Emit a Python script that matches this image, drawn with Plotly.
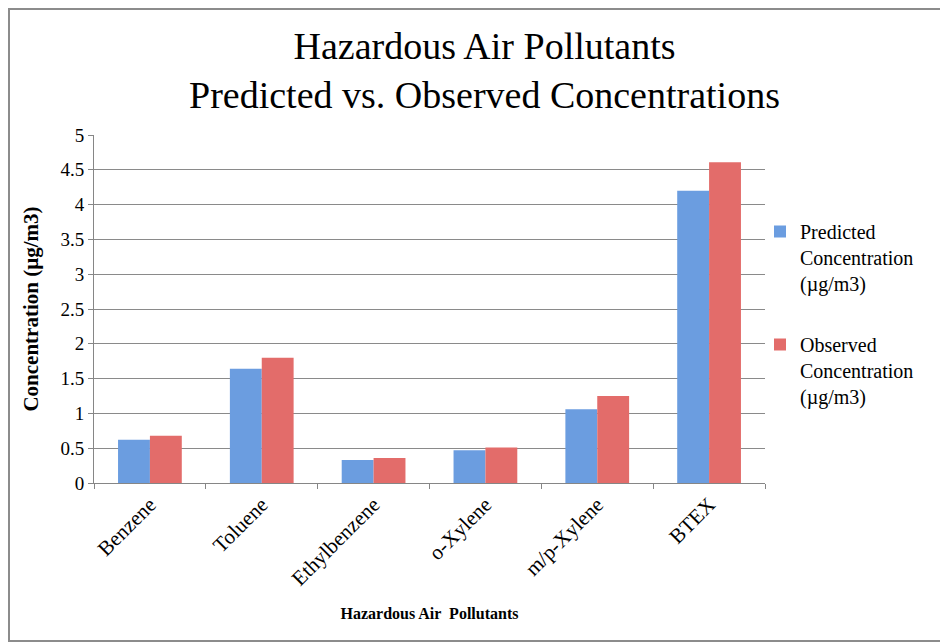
import plotly.graph_objects as go

categories = ["Benzene", "Toluene", "Ethylbenzene", "o-Xylene", "m/p-Xylene", "BTEX"]
predicted = [0.62, 1.64, 0.33, 0.47, 1.06, 4.20]
observed = [0.68, 1.80, 0.36, 0.51, 1.25, 4.61]
series_names = ["Predicted<br>Concentration<br>(µg/m3)", "Observed<br>Concentration<br>(µg/m3)"]
y_ticks = [0, 0.5, 1, 1.5, 2, 2.5, 3, 3.5, 4, 4.5, 5]
y_tick_text = ["0", "0.5", "1", "1.5", "2", "2.5", "3", "3.5", "4", "4.5", "5"]

FONT = "Liberation Serif, Times New Roman, serif"

# figure is offset by the 8px body margin of the page
W, H = 940, 635
L, R, T, B = 86, 183, 127, 160
PW, PH = W - L - R, H - T - B

fig = go.Figure()
fig.add_trace(go.Bar(x=categories, y=predicted, name=series_names[0], legendgroup="a",
                     marker=dict(color="#6b9de0", line=dict(width=0))))
fig.add_trace(go.Bar(x=categories, y=observed, name=series_names[1], legendgroup="b",
                     marker=dict(color="#e36c6a", line=dict(width=0))))

fig.update_layout(
    width=W, height=H,
    paper_bgcolor="white", plot_bgcolor="white",
    margin=dict(l=L, r=R, t=T, b=B),
    font=dict(family=FONT, color="black"),
    barmode="group", bargap=0.43, bargroupgap=0,
    legend=dict(x=(752 - L) / PW, xanchor="left", y=1 - (204 - T) / PH, yanchor="top",
                font=dict(size=20, family=FONT), tracegroupgap=32, valign="top",
                bgcolor="rgba(0,0,0,0)"),
    xaxis=dict(title=dict(text="<b>Hazardous Air  Pollutants</b>", font=dict(size=16), standoff=18),
               tickangle=-45, tickfont=dict(size=21), showline=True, linecolor="#868686",
               ticks="outside", ticklen=5, tickcolor="#868686", tickson="boundaries",
               showgrid=False),
    yaxis=dict(title=dict(text="<b>Concentration (µg/m3)</b>", font=dict(size=21), standoff=16),
               range=[0, 5], tickvals=y_ticks, ticktext=y_tick_text, tickfont=dict(size=19),
               showline=True, linecolor="#868686", ticks="outside", ticklen=5, tickcolor="#868686",
               showgrid=True, gridcolor="#8a8a8a", gridwidth=1, zeroline=False),
    annotations=[dict(text="Hazardous Air Pollutants<br>Predicted vs. Observed Concentrations",
                      xref="paper", yref="paper", x=(476 - L) / PW, xanchor="center",
                      y=1 + (T - 15) / PH, yanchor="top", showarrow=False,
                      font=dict(size=38, family=FONT))],
    shapes=[dict(type="rect", xref="paper", yref="paper",
                 x0=(1 - L) / PW, x1=(W + 10 - L) / PW,
                 y0=-(B - 2) / PH, y1=1 + (T - 1) / PH,
                 line=dict(color="#8c8c8c", width=2), fillcolor="rgba(0,0,0,0)", layer="below")],
)

fig.write_html("out.html")
